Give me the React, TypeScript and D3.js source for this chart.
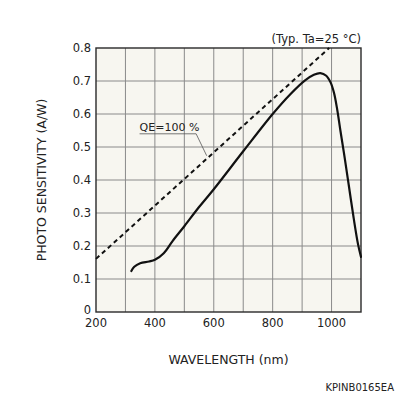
import * as d3 from "d3";

// wavelength (nm) and photo sensitivity (A/W)
const wavelength = [320, 330, 350, 380, 400, 430, 460, 500, 550, 600, 700, 800, 860, 910, 940, 962, 982, 997, 1008, 1018, 1030, 1045, 1060, 1075, 1090, 1100];
const sensitivity = [0.124, 0.137, 0.148, 0.153, 0.158, 0.178, 0.215, 0.26, 0.318, 0.372, 0.487, 0.6, 0.66, 0.702, 0.719, 0.724, 0.716, 0.695, 0.665, 0.62, 0.55, 0.465, 0.375, 0.285, 0.205, 0.167];

// QE = 100 % reference line
const qeWavelength = [200, 992];
const qeSensitivity = [0.161, 0.8];

const xTicks = [200, 400, 600, 800, 1000];
const xGrid = [300, 400, 500, 600, 700, 800, 900, 1000];
const yTicks = [0, 0.1, 0.2, 0.3, 0.4, 0.5, 0.6, 0.7, 0.8];

const W = 396;
const H = 396;
const margin = { top: 48, right: 35, bottom: 84, left: 96 };
const font = "'DejaVu Sans', Verdana, sans-serif";

export default function App() {
  const x = d3.scaleLinear().domain([200, 1100]).range([margin.left, W - margin.right]);
  const y = d3.scaleLinear().domain([0, 0.8]).range([H - margin.bottom, margin.top]);

  const curve = d3
    .line<number>()
    .x((_, i) => x(wavelength[i]))
    .y((d) => y(d))
    .curve(d3.curveCatmullRom.alpha(0.5))(sensitivity);

  const qe = d3
    .line<number>()
    .x((_, i) => x(qeWavelength[i]))
    .y((d) => y(d))(qeSensitivity);

  const x0 = x(200), x1 = x(1100), y0 = y(0), y1 = y(0.8);

  // label for the QE line
  const lx = x(348), ly = y(0.54);
  const lEnd = x(540);
  const tx = 576;
  const ty = qeSensitivity[0] + ((tx - qeWavelength[0]) / (qeWavelength[1] - qeWavelength[0])) * (qeSensitivity[1] - qeSensitivity[0]);

  return (
    <svg width={W} height={H} style={{ position: "absolute", left: 0, top: 0, background: "#fff" }} fontFamily={font}>
      <rect x={x0} y={y1} width={x1 - x0} height={y0 - y1} fill="#f7f6f0" />
      {xGrid.map((t) => (
        <line key={"gx" + t} x1={x(t)} x2={x(t)} y1={y1} y2={y0} stroke="#8a8a8a" strokeWidth={1} />
      ))}
      {yTicks.slice(1, -1).map((t) => (
        <line key={"gy" + t} x1={x0} x2={x1} y1={y(t)} y2={y(t)} stroke="#8a8a8a" strokeWidth={1} />
      ))}
      <rect x={x0} y={y1} width={x1 - x0} height={y0 - y1} fill="none" stroke="#2a2a2a" strokeWidth={1.4} />

      <path d={qe!} fill="none" stroke="#111" strokeWidth={2} strokeDasharray="4.5,3.5" />
      <path d={curve!} fill="none" stroke="#111" strokeWidth={2.2} strokeLinejoin="round" strokeLinecap="round" />

      <text x={lx} y={ly - 3} fontSize={11} fill="#222">QE=100 %</text>
      <line x1={lx} x2={lEnd} y1={ly} y2={ly} stroke="#555" strokeWidth={0.8} />
      <line x1={lEnd} x2={x(tx)} y1={ly} y2={y(ty) - 3} stroke="#555" strokeWidth={0.8} />

      {yTicks.map((t) => (
        <text key={"yt" + t} x={x0 - 5} y={y(t) + (t === 0 ? 2 : 4)} fontSize={11.5} textAnchor="end" fill="#222">
          {t === 0 ? "0" : t.toFixed(1)}
        </text>
      ))}
      {xTicks.map((t) => (
        <text key={"xt" + t} x={x(t)} y={y0 + 15} fontSize={11.5} textAnchor="middle" fill="#222">
          {t}
        </text>
      ))}

      <text x={x1} y={y1 - 5} fontSize={11.5} textAnchor="end" fill="#222">(Typ. Ta=25 °C)</text>
      <text x={(x0 + x1) / 2} y={y0 + 52} fontSize={12.5} textAnchor="middle" fill="#222">WAVELENGTH (nm)</text>
      <text transform={`translate(46,${(y0 + y1) / 2}) rotate(-90)`} fontSize={12.5} textAnchor="middle" fill="#222">
        PHOTO SENSITIVITY (A/W)
      </text>
      <text x={W - 2} y={W - 5} fontSize={10} textAnchor="end" fill="#222">KPINB0165EA</text>
    </svg>
  );
}
